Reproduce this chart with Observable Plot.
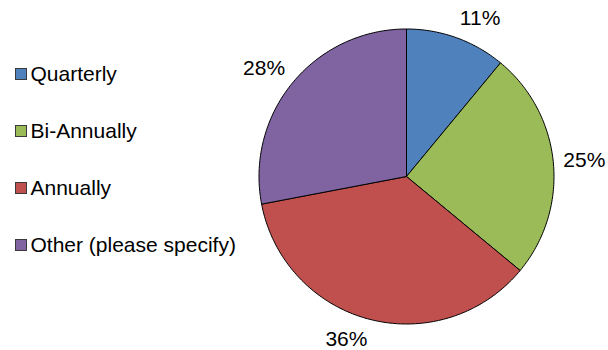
<!DOCTYPE html>
<html>
<head>
<meta charset="utf-8">
<script src="https://cdn.jsdelivr.net/npm/d3@7"></script>
<script src="https://cdn.jsdelivr.net/npm/@observablehq/plot@0.6"></script>
<style>
  html, body { margin: 0; padding: 0; background: #fff; }
  #wrap { position: relative; width: 608px; height: 350px; font-family: "Liberation Sans", Arial, sans-serif; }
  #legend { position: absolute; left: 0; top: 0; }
  .row { position: absolute; left: 0; height: 21px; line-height: 21px; font-size: 21px; white-space: nowrap; color: #000; }
  .key { position: absolute; left: 15px; top: 5px; width: 10px; height: 10px; border: 1px solid #3a3a3a; }
  .lab { position: absolute; left: 30.5px; top: 0; }
</style>
</head>
<body>
<div id="wrap"><div id="legend"></div></div>
<script>
// Survey answers: how often the review is carried out (share of respondents, %)
const categories = ["Quarterly", "Bi-Annually", "Annually", "Other (please specify)"];
const shares = [11, 25, 36, 28];
const colors = ["#4F81BD", "#9BBB59", "#C0504D", "#8064A2"];

// Pie geometry (pixels)
const cx = 406, cy = 176, R = 147.5;
const fontSize = 21;
const font = `${fontSize}px "Liberation Sans", Arial, sans-serif`;

// Slice outlines in unit-circle coordinates, clockwise from 12 o'clock
const arcs = d3.pie().sort(null).value(d => d)(shares);
const slicePoints = [];
arcs.forEach((a, i) => {
  const category = categories[i];
  const n = Math.max(2, Math.ceil((a.endAngle - a.startAngle) / (Math.PI / 180)) + 1);
  slicePoints.push({category, x: 0, y: 0});
  for (let k = 0; k < n; ++k) {
    const t = a.startAngle + (a.endAngle - a.startAngle) * k / (n - 1);
    slicePoints.push({category, x: Math.sin(t), y: Math.cos(t)});
  }
  slicePoints.push({category, x: 0, y: 0});
});

// Percentage labels: the label box rests against a point just outside the rim
const ctx = document.createElement("canvas").getContext("2d");
ctx.font = font;
const clamp = v => Math.max(-1, Math.min(1, v));
const gap = 10;
const labels = arcs.map((a, i) => {
  const text = `${shares[i]}%`;
  const mid = (a.startAngle + a.endAngle) / 2;
  const s = Math.sin(mid), c = Math.cos(mid);
  const halfW = ctx.measureText(text).width / 2, halfH = fontSize / 2;
  const r = (R + gap) / R;
  return {
    text,
    x: r * s + halfW * clamp(4 * s) / R,
    y: r * c + halfH * clamp(1.1 * c) / R
  };
});

const chart = Plot.plot({
  width: 608,
  height: 350,
  x: {domain: [-1, 1], range: [cx - R, cx + R], axis: null},
  y: {domain: [-1, 1], range: [cy + R, cy - R], axis: null},
  color: {domain: categories, range: colors},
  style: {fontFamily: '"Liberation Sans", Arial, sans-serif', background: "white", color: "black"},
  marks: [
    Plot.line(slicePoints, {x: "x", y: "y", z: "category", fill: "category", stroke: "black", strokeWidth: 1, strokeLinejoin: "round"}),
    Plot.text(labels, {x: "x", y: "y", text: "text", fontSize, fill: "black", textAnchor: "middle", lineAnchor: "middle"})
  ]
});

const wrap = document.getElementById("wrap");
wrap.insertBefore(chart, wrap.firstChild);
chart.style.position = "absolute";
chart.style.left = "0";
chart.style.top = "0";

// Legend, coloured through the chart's own colour scale
const color = chart.scale("color");
const legend = document.getElementById("legend");
categories.forEach((name, i) => {
  const row = document.createElement("div");
  row.className = "row";
  row.style.top = `${63 + i * 56.9}px`;
  const key = document.createElement("span");
  key.className = "key";
  key.style.background = color.apply(name);
  const lab = document.createElement("span");
  lab.className = "lab";
  lab.textContent = name;
  row.append(key, lab);
  legend.append(row);
});
</script>
</body>
</html>
